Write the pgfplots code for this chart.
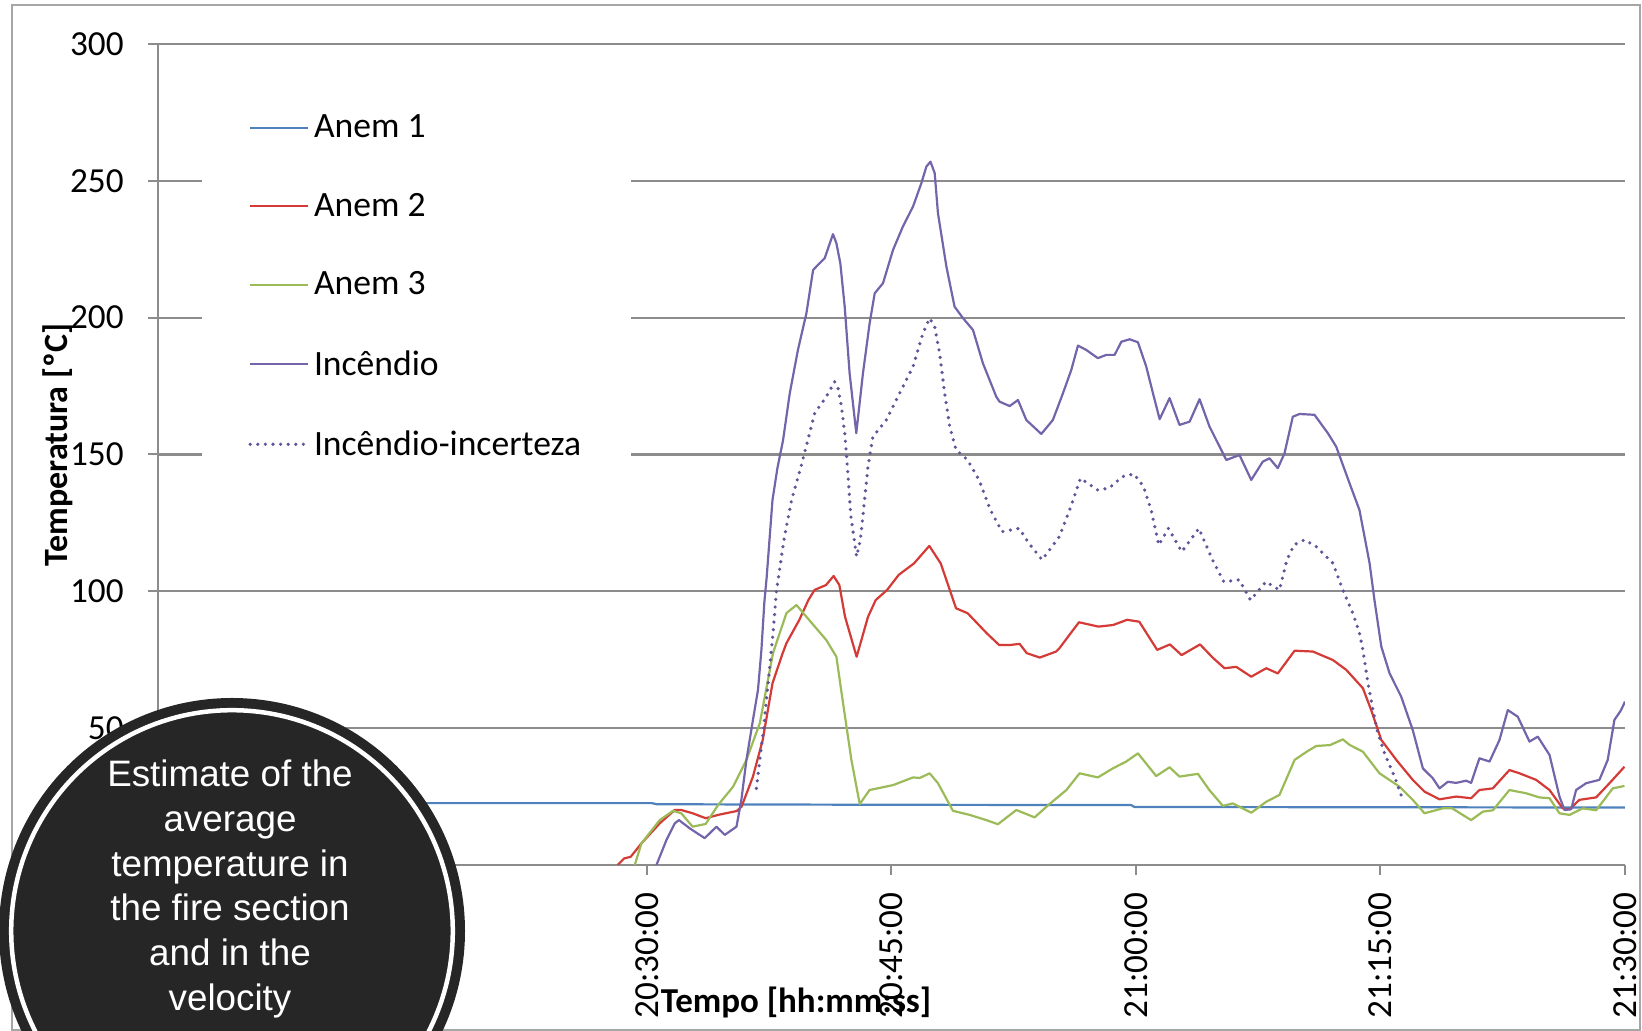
\documentclass[border=0pt]{standalone}
\usepackage{pgfplots}
\pgfplotsset{compat=1.18}
\usepackage{fontspec}
\setmainfont{Carlito}
\newfontfamily\arial{Liberation Sans}

\definecolor{anemA}{HTML}{4F81BD}
\definecolor{anemB}{HTML}{D43A36}
\definecolor{anemC}{HTML}{9BBB59}
\definecolor{fogo}{HTML}{7464AA}
\definecolor{fogoInc}{HTML}{5F5599}
\definecolor{gridgray}{HTML}{8C8C8C}
\definecolor{framegray}{HTML}{A6A6A6}
\definecolor{badge}{HTML}{262626}

\begin{document}
\begin{tikzpicture}
\useasboundingbox (-79pt,-83pt) rectangle (742pt,432.5pt);
\clip (-79pt,-83pt) rectangle (742pt,432.5pt);
% chart area frame
\draw[framegray, line width=0.9pt] (-73pt,-82.5pt) rectangle (741pt,430pt);
\begin{axis}[
  at={(0pt,0pt)}, anchor=south west,
  scale only axis, width=733.5pt, height=410.5pt,
  xmin=0, xmax=90, ymin=0, ymax=300,
  axis lines*=left,
  axis line style={gridgray, line width=1pt},
  ymajorgrids,
  major grid style={gridgray, line width=1.1pt},
  tick align=outside,
  major tick length=5pt,
  major tick style={gridgray, line width=1pt},
  xtick={0,15,30,45,60,75,90},
  % the first labels sit under the badge
  xticklabels={,,20:30:00,20:45:00,21:00:00,21:15:00,21:30:00},
  ytick={0,50,100,150,200,250,300},
  yticklabels={,50,100,150,200,250,300},
  tick label style={font=\fontsize{17.6}{21}\selectfont, black},
  xticklabel style={rotate=90, anchor=east, inner sep=0pt},
  yticklabel style={anchor=east, inner sep=0pt},
  xticklabel shift=8.5pt,
  yticklabel shift=12pt,
  xlabel={Tempo [hh:mm:ss]},
  ylabel={Temperatura [ºC]},
  xlabel style={at={(axis description cs:0.435,-0.1669)}, anchor=center, font=\bfseries\fontsize{17.5}{21}\selectfont},
  ylabel style={at={(axis description cs:-0.0684,0.5116)}, anchor=center, font=\bfseries\fontsize{17}{20}\selectfont},
  legend image code/.code={\draw[#1] (0pt,0pt) -- (29pt,0pt);},
  legend cell align=left,
  legend style={at={(axis description cs:0.030,0.953)}, anchor=north west,
    draw=none, fill=white, inner xsep=23pt, inner ysep=14pt,
    row sep=22.2pt,
    font=\fontsize{17.8}{21}\selectfont},
  every axis plot/.append style={line width=1.1pt, line join=round},
]
% Anem 1
\addplot[anemA] coordinates {
(0,22.6) (30.3,22.6) (30.6,22.2) (45,22.0) (59.7,21.9) (59.9,21.2) (90,21.0)
};
\addlegendentry{Anem 1}
% Anem 2
\addplot[anemB] coordinates {
(28.2,0) (28.6,2.4) (29.0,3.0) (29.66,7.9) (30.78,15.2) (31.7,20.1) (32.1,20.1)
(32.8,18.9) (33.6,17.1) (34.5,18.5) (35.5,19.7) (35.8,21.3) (36.5,32.3) (37.1,45.7)
(37.7,66.4) (38.3,77) (38.55,81) (39.34,89.5) (39.9,96.8) (40.28,100.5) (40.98,102.3)
(41.45,105.6) (41.8,102.3) (42.15,90.7) (42.86,76.1) (43.56,90.7) (44.03,96.8)
(44.73,100.5) (45.44,106) (46.38,110.2) (47.32,116.6) (48.02,110.2) (48.96,93.8)
(49.67,92.0) (50.84,84.7) (51.6,80.4) (52.3,80.4) (52.86,80.8) (53.3,77.4) (54.1,75.8)
(55.1,78) (55.3,79.2) (56.5,88.7) (57.7,87.1) (58.6,87.7) (59.45,89.6) (60.2,88.9)
(61.3,78.6) (62.08,80.6) (62.8,76.7) (63.93,80.6) (64.7,75.8) (65.43,71.9) (66.15,72.4)
(67.07,68.8) (67.99,71.9) (68.7,70.0) (69.73,78.3) (70.85,78) (72.08,74.9) (72.9,71.3)
(73.92,64.6) (74.43,56.6) (75.05,45.7) (75.97,38.4) (76.98,31.1) (77.7,26.8) (78.62,24.0)
(79.64,25.0) (80.56,24.4) (81.07,27.4) (81.89,28.0) (82.91,34.7) (83.53,33.5) (84.55,31.1)
(85.37,27.4) (86.18,20.7) (86.6,20.3) (87.2,23.8) (88.23,24.7) (89.05,29.9) (89.97,35.9)
};
\addlegendentry{Anem 2}
% Anem 3
\addplot[anemC] coordinates {
(29.25,0) (29.66,7.9) (30.78,16.4) (31.6,19.8) (32.1,18.9) (32.8,14.0) (33.6,15.0)
(34.36,21.9) (35.28,28.6) (36.1,38.4) (36.92,51.8) (37.73,77.4) (38.55,92) (39.17,95)
(39.78,90.7) (41.0,82.2) (41.62,76.1) (42.0,60.3) (42.54,38.4) (43.05,22.3) (43.66,27.4)
(45.1,29.2) (46.32,32.0) (46.73,31.8) (47.34,33.5) (47.85,29.9) (48.77,19.8) (49.8,18.3)
(50.82,16.4) (51.53,14.9) (52.66,20.1) (53.78,17.4) (54.7,22.3) (55.73,27.4) (56.54,33.5)
(57.66,32.0) (58.58,35.3) (59.4,37.8) (60.12,40.8) (61.24,32.5) (62.06,35.7) (62.67,32.3)
(63.8,33.3) (64.5,27.4) (65.33,21.6) (65.94,22.5) (67.07,19.1) (67.99,23.1) (68.8,25.6)
(69.73,38.4) (70.5,41.5) (71.06,43.5) (71.9,43.8) (72.69,45.9) (73.1,43.9) (73.92,41.4)
(74.94,33.5) (76.17,28.6) (76.98,23.8) (77.7,18.9) (78.82,20.7) (79.4,20.7) (80.56,16.4)
(81.28,19.5) (81.9,20) (82.91,27.4) (83.94,26.2) (84.75,24.7) (85.37,24.4) (85.98,18.9)
(86.6,18.3) (87.41,20.7) (88.23,20) (89.25,28) (89.97,28.9)
};
\addlegendentry{Anem 3}
% Incendio
\addplot[fogo] coordinates {
(30.58,0) (31.19,9.1) (31.7,15.2) (31.96,16.4) (32.62,13.4) (33.54,9.8) (34.26,14)
(34.77,11) (35.49,14) (35.79,23.8) (36.1,38.4) (36.5,53) (36.81,64) (37.02,78.6)
(37.2,96) (37.34,105) (37.7,133.4) (38.0,145) (38.35,155.3) (38.76,172.4) (39.26,188.2)
(39.78,201.6) (40.19,217.4) (40.49,219.3) (40.9,221.7) (41.41,230.5) (41.62,227.2)
(41.86,219.9) (42.13,204) (42.43,179.7) (42.84,157.8) (43.25,179.7) (43.66,198)
(43.97,208.9) (44.48,212.6) (45.09,224.7) (45.7,233.3) (46.32,240.6) (46.83,249.1)
(47.14,255.2) (47.39,257) (47.65,252.8) (47.85,238.2) (48.37,218.6) (48.87,204)
(49.39,199.8) (50.0,195.5) (50.61,183.3) (51.43,171.1) (51.63,169.3) (52.25,167.7)
(52.76,169.9) (53.27,162.6) (54.19,157.5) (54.9,162.6) (55.52,172.4) (56.03,180.9)
(56.44,189.8) (56.95,188.2) (57.66,185.2) (58.18,186.4) (58.69,186.4) (59.1,191.2)
(59.61,192.1) (60.12,191) (60.63,182.1) (61.04,172.4) (61.45,162.9) (62.06,170.6)
(62.67,160.8) (63.29,162) (63.9,170.2) (64.51,160.2) (65.54,148) (66.35,149.8)
(67.07,140.7) (67.78,147.4) (68.19,148.6) (68.7,145) (69.11,150.4) (69.62,163.8)
(70.03,164.8) (70.95,164.5) (71.77,157.8) (72.28,152.9) (73.1,139.5) (73.71,129.7)
(74.33,110.3) (74.63,96.8) (75.05,79.8) (75.56,70) (76.27,61.5) (76.98,49.3) (77.6,35.3)
(78.21,31.7) (78.62,28) (79.13,30.4) (79.64,30) (80.26,30.8) (80.56,30) (81.07,39)
(81.69,37.8) (82.3,45.7) (82.81,56.6) (83.42,54.2) (84.14,45.1) (84.65,46.9) (85.37,40.2)
(85.98,25) (86.29,20.1) (86.7,20.4) (87.0,27.4) (87.62,29.9) (88.43,31.1) (88.94,38.4)
(89.35,53) (89.76,56.6) (90,59.7)
};
\addlegendentry{Incêndio}
% Incendio - incerteza
\addplot[fogoInc, line width=1.8pt, line cap=round, dash pattern=on 0pt off 3.8pt] coordinates {
(36.71,28) (36.92,38.4) (37.12,48.1) (37.33,60.3) (37.53,72.5) (37.73,84.7) (37.94,100)
(38.4,118.8) (38.87,133.4) (39.45,145.6) (39.98,157.8) (40.29,165.1) (41.0,171.1)
(41.51,176.6) (41.72,174.2) (41.93,167.5) (42.13,157.8) (42.3,145) (42.51,127.3)
(42.86,112.7) (43.09,118.8) (43.56,145.6) (43.86,156.5) (44.68,162.6) (45.5,172.4)
(46.32,182.1) (46.93,194.3) (47.34,199.8) (47.65,196.7) (47.95,187) (48.26,172.4)
(48.57,160.2) (48.96,151.7) (49.67,148) (50.37,140.7) (51.07,129.7) (51.78,121.8)
(52.84,123) (53.42,117.6) (54.24,111.5) (55.3,120) (56.0,130.9) (56.59,141.3) (57.65,137)
(58.35,137.7) (59.17,141.9) (59.87,142.9) (60.46,138.3) (60.93,129.7) (61.4,116.9)
(61.99,123) (62.81,114.5) (63.86,123) (64.69,111.5) (65.39,103.5) (66.33,104.2)
(67.03,96.8) (67.97,103.5) (68.8,100.5) (69.26,111.5) (69.7,117) (70.34,118.8)
(71.06,116.3) (72.08,110.3) (72.69,100.5) (73.3,92) (73.7,85) (73.92,78.6) (74.23,66.4)
(74.54,56.6) (74.84,48.1) (75.25,40.8) (75.86,32.3) (76.37,23.8)
};
\addlegendentry{Incêndio-incerteza}
\end{axis}
% caption badge
\fill[badge] (37pt,-33pt) circle (116.5pt);
\draw[white, line width=2.25pt] (37pt,-33pt) circle (110.4pt);
\node[text=white, align=center, font=\arial\fontsize{18.4}{22.4}\selectfont]
  at (36pt,-12pt) {Estimate of the\\average\\temperature in\\the fire section\\and in the\\velocity};
\end{tikzpicture}
\end{document}
